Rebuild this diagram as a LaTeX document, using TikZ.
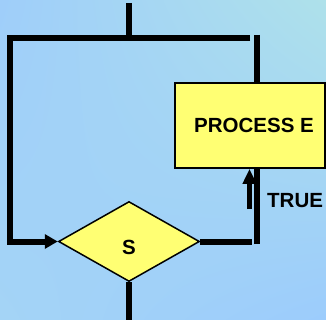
\documentclass[tikz,border=0pt]{standalone}
\usepackage{fontspec}
\setmainfont{Liberation Sans}
\usepackage{tikz}
\usetikzlibrary{arrows.meta,positioning,shapes.geometric,calc,shadings}
\definecolor{ink}     {HTML}{000000}
\definecolor{boxfill} {HTML}{FFFF73}
\definecolor{skyUL}   {HTML}{9FCEFA}
\definecolor{skyUR}   {HTML}{AEE1EA}
\definecolor{skyLL}   {HTML}{A4D4F6}
\definecolor{skyLR}   {HTML}{9CCCFC}
\tikzset{
  procbox/.style  ={draw=ink, fill=boxfill, line width=1.6pt,
                    minimum width=150pt, minimum height=85pt,
                    align=center, inner sep=0pt,
                    font=\fontsize{20.5}{24}\selectfont\bfseries},
  testbox/.style  ={diamond, draw=ink, fill=boxfill, line width=1.5pt,
                    minimum width=141pt, minimum height=80pt, inner sep=0pt,
                    font=\fontsize{20.5}{24}\selectfont\bfseries},
  flowline/.style ={line width=6pt, color=ink, line join=miter},
  flowarr/.style  ={flowline, -{Triangle[length=13pt,width=14pt]}},
  truearr/.style  ={line width=4.5pt, color=ink, -{Triangle[length=15pt,width=13pt]}},
  lbl/.style      ={font=\fontsize{20.5}{24}\selectfont\bfseries, inner sep=0pt},
}
\begin{document}
\begin{tikzpicture}[x=1pt,y=-1pt]
        % background
        \shade[upper left=skyUL,upper right=skyUR,lower left=skyLL,lower right=skyLR]
          (0,0) rectangle (326,320);
        \useasboundingbox (0,0) rectangle (326,320);

        \node[testbox] (test) at (129,241.5) {\smash{\raisebox{-12.5pt}{S}}};
        \node[procbox] (proce) at (250,125.5) {\hspace{8pt}PROCESS E};
        \node[lbl,anchor=west] (truelbl) at (267,201) {TRUE};

        \coordinate (entry)  at (129,3);
        \coordinate (split)  at (129,38);
        \coordinate (loopl)  at (9.5,38);
        \coordinate (loopr)  at (250,38);
        \coordinate (rtop)   at (257,35);
        \coordinate (rbot)   at (257,244);
        \coordinate (rend)   at (252,241.5);
        \coordinate (exit)   at (129,320);
        \coordinate (truein) at (249.5,209);

        % main path and loop back into the test
        \draw[flowline] (entry) -- (split);
        \draw[flowarr] (loopr) -- (loopl) -- (loopl |- test.west) -- (test.west);
        \draw[flowline] (test.east) -- (rend);
        \draw[flowline] (rtop) -- (rtop |- proce.north);
        \draw[flowline] (rbot) -- (rbot |- proce.south);
        \draw[flowline] (test.south) -- (exit);

        % true branch
        \draw[truearr] (truein) -- (truein |- proce.south);
      \end{tikzpicture}
\end{document}
